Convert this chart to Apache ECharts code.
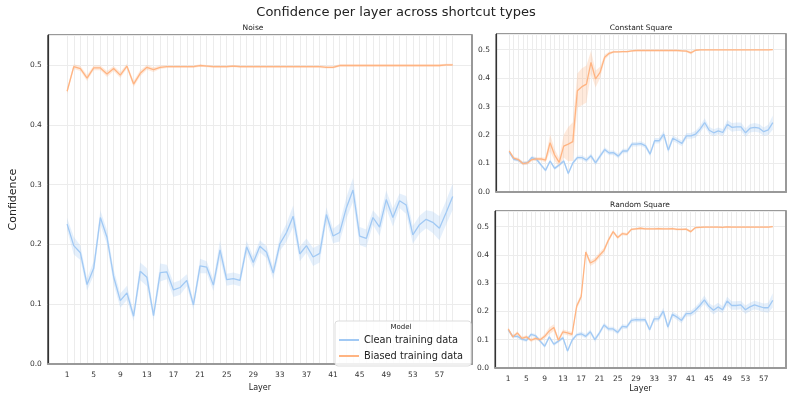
<!DOCTYPE html>
<html>
<head>
<meta charset="utf-8">
<script src="https://cdn.jsdelivr.net/npm/echarts@6/dist/echarts.min.js"></script>
<style>
  html, body { margin: 0; padding: 0; background: #fff; }
  #main { width: 793px; height: 397px; }
</style>
</head>
<body>
<div id="main"></div>
<script>
// layers (x axis)
var layers = [1,2,3,4,5,6,7,8,9,10,11,12,13,14,15,16,17,18,19,20,21,22,23,24,25,26,27,28,29,30,
  31,32,33,34,35,36,37,38,39,40,41,42,43,44,45,46,47,48,49,50,51,52,53,54,55,56,57,58,59];
var xTicks = [1,5,9,13,17,21,25,29,33,37,41,45,49,53,57];
var yTicks = [0, 0.1, 0.2, 0.3, 0.4, 0.5];

// Noise
var noiseClean = [0.234,0.198,0.186,0.133,0.160,0.245,0.212,0.146,0.106,0.119,0.080,0.155,0.145,0.081,0.153,
  0.154,0.124,0.128,0.140,0.099,0.164,0.162,0.132,0.191,0.141,0.143,0.140,0.196,0.170,0.197,
  0.187,0.152,0.201,0.220,0.247,0.184,0.198,0.179,0.185,0.250,0.214,0.220,0.261,0.291,0.214,
  0.210,0.245,0.229,0.275,0.245,0.273,0.266,0.216,0.233,0.242,0.237,0.227,0.253,0.280];
var noiseCleanCi = [0.010,0.015,0.012,0.010,0.012,0.012,0.012,0.012,0.012,0.012,0.008,0.015,0.015,0.008,0.015,
  0.012,0.012,0.012,0.010,0.008,0.012,0.010,0.010,0.015,0.010,0.010,0.010,0.010,0.010,0.010,
  0.010,0.010,0.012,0.015,0.018,0.012,0.012,0.015,0.015,0.012,0.012,0.015,0.018,0.020,0.015,
  0.015,0.012,0.015,0.015,0.015,0.012,0.015,0.015,0.015,0.015,0.018,0.020,0.020,0.022];
var noiseBiased = [0.456,0.497,0.494,0.478,0.495,0.495,0.485,0.494,0.483,0.498,0.468,0.486,0.496,0.492,0.496,
  0.497,0.497,0.497,0.497,0.497,0.499,0.498,0.497,0.497,0.497,0.498,0.497,0.497,0.497,0.497,
  0.497,0.497,0.497,0.497,0.497,0.497,0.497,0.497,0.497,0.496,0.496,0.499,0.499,0.499,0.499,
  0.499,0.499,0.499,0.499,0.499,0.499,0.499,0.499,0.499,0.499,0.499,0.499,0.500,0.500];
var noiseBiasedCi = [0.005,0.004,0.004,0.005,0.004,0.004,0.005,0.004,0.005,0.004,0.005,0.005,0.004,0.004,0.003,
  0.002,0.002,0.002,0.002,0.002,0.002,0.002,0.002,0.002,0.002,0.002,0.002,0.002,0.002,0.002,
  0.002,0.002,0.002,0.002,0.002,0.002,0.002,0.002,0.002,0.002,0.002,0.002,0.002,0.002,0.002,
  0.002,0.002,0.002,0.002,0.002,0.002,0.002,0.002,0.002,0.002,0.002,0.002,0.002,0.002];

// Constant Square
var constClean = [0.140,0.115,0.112,0.101,0.103,0.121,0.115,0.095,0.076,0.109,0.083,0.095,0.109,0.065,0.102,
  0.121,0.121,0.112,0.127,0.102,0.126,0.149,0.137,0.138,0.126,0.144,0.144,0.168,0.168,0.170,
  0.162,0.133,0.180,0.180,0.203,0.147,0.189,0.180,0.171,0.197,0.197,0.203,0.221,0.244,0.217,
  0.208,0.215,0.209,0.238,0.227,0.229,0.229,0.208,0.224,0.227,0.224,0.212,0.218,0.244];
var constCleanCi = [0.006,0.006,0.006,0.006,0.006,0.006,0.006,0.006,0.006,0.006,0.006,0.006,0.006,0.006,0.006,
  0.006,0.008,0.008,0.008,0.008,0.008,0.008,0.008,0.008,0.008,0.008,0.008,0.008,0.008,0.008,
  0.008,0.008,0.010,0.010,0.012,0.010,0.010,0.010,0.010,0.010,0.010,0.012,0.012,0.015,0.012,
  0.012,0.012,0.012,0.015,0.015,0.015,0.015,0.015,0.015,0.015,0.015,0.015,0.018,0.025];
var constBiased = [0.144,0.119,0.114,0.100,0.102,0.114,0.116,0.116,0.112,0.173,0.130,0.104,0.161,0.168,0.177,
  0.356,0.370,0.379,0.455,0.397,0.420,0.473,0.487,0.492,0.492,0.493,0.493,0.496,0.497,0.497,
  0.497,0.497,0.497,0.497,0.497,0.497,0.497,0.497,0.496,0.495,0.489,0.498,0.499,0.499,0.499,
  0.499,0.499,0.499,0.499,0.499,0.499,0.499,0.499,0.499,0.499,0.499,0.499,0.499,0.500];
var constBiasedCi = [0.006,0.006,0.006,0.006,0.006,0.006,0.006,0.006,0.008,0.030,0.020,0.015,0.040,0.060,0.068,
  0.060,0.065,0.065,0.040,0.030,0.020,0.010,0.006,0.004,0.003,0.003,0.003,0.003,0.003,0.003,
  0.003,0.003,0.003,0.003,0.003,0.003,0.003,0.003,0.003,0.004,0.006,0.003,0.002,0.002,0.002,
  0.002,0.002,0.002,0.002,0.002,0.002,0.002,0.002,0.002,0.002,0.002,0.002,0.002,0.002];

// Random Square
var randClean = [0.135,0.112,0.112,0.102,0.098,0.119,0.114,0.095,0.077,0.110,0.084,0.095,0.107,0.060,0.098,
  0.117,0.121,0.112,0.128,0.100,0.124,0.152,0.138,0.138,0.126,0.147,0.145,0.168,0.171,0.170,
  0.171,0.135,0.174,0.174,0.201,0.145,0.190,0.180,0.168,0.192,0.192,0.204,0.221,0.241,0.218,
  0.204,0.216,0.206,0.237,0.221,0.221,0.223,0.206,0.216,0.223,0.218,0.213,0.213,0.239];
var randCleanCi = [0.006,0.006,0.006,0.006,0.006,0.006,0.006,0.006,0.006,0.006,0.006,0.006,0.006,0.006,0.006,
  0.006,0.008,0.008,0.008,0.008,0.008,0.008,0.008,0.008,0.008,0.008,0.008,0.008,0.008,0.008,
  0.008,0.008,0.010,0.010,0.012,0.010,0.010,0.010,0.010,0.010,0.010,0.012,0.012,0.015,0.012,
  0.015,0.015,0.012,0.015,0.015,0.015,0.015,0.015,0.015,0.015,0.015,0.015,0.018,0.025];
var randBiased = [0.138,0.110,0.124,0.105,0.110,0.098,0.105,0.100,0.112,0.131,0.143,0.098,0.128,0.124,0.119,
  0.218,0.253,0.410,0.371,0.380,0.398,0.416,0.453,0.482,0.461,0.475,0.472,0.490,0.492,0.494,
  0.492,0.492,0.492,0.493,0.492,0.492,0.493,0.490,0.490,0.491,0.482,0.496,0.497,0.498,0.498,
  0.498,0.498,0.497,0.499,0.498,0.498,0.498,0.498,0.498,0.498,0.498,0.498,0.498,0.500];
var randBiasedCi = [0.006,0.006,0.006,0.006,0.006,0.006,0.006,0.006,0.008,0.012,0.012,0.008,0.008,0.008,0.008,
  0.010,0.010,0.008,0.010,0.010,0.010,0.010,0.008,0.006,0.006,0.006,0.005,0.004,0.004,0.004,
  0.004,0.004,0.004,0.004,0.004,0.004,0.004,0.004,0.004,0.004,0.005,0.003,0.003,0.003,0.003,
  0.003,0.003,0.003,0.003,0.003,0.003,0.003,0.003,0.003,0.003,0.003,0.003,0.003,0.003];

var BLUE = '#a1c9f4', ORANGE = '#ffb482';
var BLUE_BAND = 'rgba(161,201,244,0.28)', ORANGE_BAND = 'rgba(255,180,130,0.28)';
var FONT = 'DejaVu Sans';

var chart = echarts.init(document.getElementById('main'), null, { renderer: 'canvas' });

function pairs(vals) {
  return layers.map(function (l, i) { return [l, vals[i]]; });
}

var series = [];
// confidence band as one polygon, drawn through the axis scales
function addBand(gi, vals, ci, color) {
  var lo = vals.map(function (v, i) { return v - ci[i]; });
  var hi = vals.map(function (v, i) { return v + ci[i]; });
  series.push({
    type: 'custom', xAxisIndex: gi, yAxisIndex: gi, silent: true, z: 1,
    data: layers.map(function (l, i) { return [l, lo[i], hi[i]]; }),
    encode: { x: 0, y: [1, 2] },
    renderItem: function (params, api) {
      if (params.dataIndex !== 0) return null;
      var pts = [];
      for (var i = 0; i < layers.length; i++) pts.push(api.coord([layers[i], hi[i]]));
      for (var j = layers.length - 1; j >= 0; j--) pts.push(api.coord([layers[j], lo[j]]));
      return { type: 'polygon', shape: { points: pts }, style: { fill: color, stroke: null } };
    }
  });
}
function addPanel(gi, clean, cleanCi, biased, biasedCi) {
  // vertical grid lines at each layer
  series.push({
    type: 'line', xAxisIndex: gi, yAxisIndex: gi, symbol: 'none', silent: true, z: 0,
    lineStyle: { opacity: 0 }, data: [],
    markLine: {
      silent: true, z: 0, symbol: ['none', 'none'], animation: false, label: { show: false },
      lineStyle: { color: '#ececec', width: 1, type: 'solid' },
      emphasis: { disabled: true },
      data: layers.map(function (l) { return { xAxis: l }; })
    }
  });
  addBand(gi, clean, cleanCi, BLUE_BAND);
  addBand(gi, biased, biasedCi, ORANGE_BAND);
  series.push({
    name: 'Clean training data', type: 'line', xAxisIndex: gi, yAxisIndex: gi,
    symbol: 'none', showSymbol: false, z: 3,
    color: BLUE, lineStyle: { color: BLUE, width: 1.3 }, data: pairs(clean)
  });
  series.push({
    name: 'Biased training data', type: 'line', xAxisIndex: gi, yAxisIndex: gi,
    symbol: 'none', showSymbol: false, z: 3,
    color: ORANGE, lineStyle: { color: ORANGE, width: 1.3 }, data: pairs(biased)
  });
}
addPanel(0, noiseClean, noiseCleanCi, noiseBiased, noiseBiasedCi);
addPanel(1, constClean, constCleanCi, constBiased, constBiasedCi);
addPanel(2, randClean, randCleanCi, randBiased, randBiasedCi);

var grids = [
  { left: 35, top: 35, width: 437, height: 332 },
  { left: 496, top: 34, width: 290, height: 158 },
  { left: 495, top: 211, width: 291, height: 157 }
];
grids.forEach(function (g) { g.show = true; g.borderColor = '#333'; g.borderWidth = 1; g.containLabel = false; });

function xAx(gi, showLabels, name) {
  return {
    type: 'value', gridIndex: gi, min: -1.9, max: 61.9,
    name: name, nameLocation: 'middle', nameGap: 17,
    nameTextStyle: { fontFamily: FONT, fontSize: 8, color: '#222' },
    axisLine: { show: true, onZero: false, lineStyle: { color: '#999', width: 2 } },
    axisTick: { show: false },
    splitLine: { show: false },
    axisLabel: { show: showLabels, customValues: xTicks, fontFamily: FONT, fontSize: 7.5, color: '#333', margin: 7 }
  };
}
function fmtY(v) {
  for (var i = 0; i < yTicks.length; i++) if (Math.abs(v - yTicks[i]) < 1e-6) return v.toFixed(1);
  return '';
}
function yAx(gi, max, name) {
  return {
    type: 'value', gridIndex: gi, min: 0, max: max, interval: 0.1,
    name: name, nameLocation: 'middle', nameGap: 22,
    nameTextStyle: { fontFamily: FONT, fontSize: 11, color: '#222' },
    axisLine: { show: true, onZero: false, lineStyle: { color: '#333', width: 1.2 } },
    axisTick: { show: false },
    splitLine: { show: true, lineStyle: { color: '#ececec', width: 1 } },
    axisLabel: { formatter: fmtY, fontFamily: FONT, fontSize: 7.5, color: '#333', margin: 6 }
  };
}
function yRight(gi, max) {
  return {
    type: 'value', gridIndex: gi, min: 0, max: max, position: 'right',
    axisLine: { show: true, onZero: false, lineStyle: { color: '#999', width: 2 } },
    axisTick: { show: false }, axisLabel: { show: false }, splitLine: { show: false }
  };
}

function ttl(text, left, top, size) {
  return { text: text, left: left, top: top, textAlign: 'center', padding: 0,
    textStyle: { fontFamily: FONT, fontSize: size, fontWeight: 'normal', color: '#222' } };
}

var option = {
  backgroundColor: '#fff',
  animation: false,
  title: [
    ttl('Confidence per layer across shortcut types', 396, 6, 13),
    ttl('Noise', 253, 24, 7.5),
    ttl('Constant Square', 641, 24, 7.5),
    ttl('Random Square', 640, 201, 7.5),
    ttl('Model', 401, 324, 7)
  ],
  legend: {
    data: ['Clean training data', 'Biased training data'],
    orient: 'vertical', left: 335, top: 321,
    icon: 'rect', itemWidth: 20, itemHeight: 2,
    padding: [14, 8, 5, 4], itemGap: 6,
    backgroundColor: 'rgba(255,255,255,0.85)', borderColor: '#dddddd', borderWidth: 1, borderRadius: 3,
    textStyle: { fontFamily: FONT, fontSize: 9.8, color: '#222' }
  },
  grid: grids,
  xAxis: [xAx(0, true, 'Layer'), xAx(1, false, ''), xAx(2, true, 'Layer')],
  yAxis: [yAx(0, 0.55, 'Confidence'), yAx(1, 0.555, ''), yAx(2, 0.555, ''),
    yRight(0, 0.55), yRight(1, 0.555), yRight(2, 0.555)],
  series: series
};
chart.setOption(option);
</script>
</body>
</html>
